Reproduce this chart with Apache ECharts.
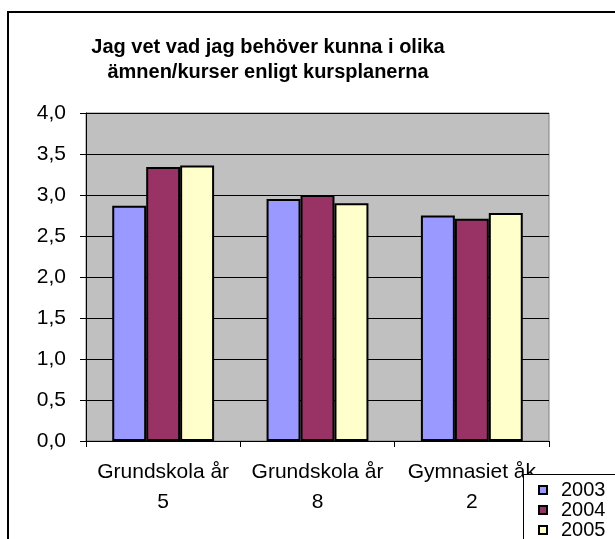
<!DOCTYPE html>
<html><head><meta charset="utf-8">
<script src="https://cdn.jsdelivr.net/npm/echarts@6/dist/echarts.min.js"></script>
<style>html,body{margin:0;padding:0;background:#fff}#c{width:615px;height:539px}</style>
</head><body><div id="c"></div>
<script>
var titleText = 'Jag vet vad jag behöver kunna i olika\nämnen/kurser enligt kursplanerna';
var categories = ['Grundskola år\n5', 'Grundskola år\n8', 'Gymnasiet åk\n2'];
var seriesNames = ['2003', '2004', '2005'];
var values2003 = [2.87, 2.95, 2.75];
var values2004 = [3.34, 3.00, 2.71];
var values2005 = [3.36, 2.90, 2.78];
var colors = ['#9999FF', '#993366', '#FFFFCC'];
var FONT = 'Liberation Sans, Arial, sans-serif';

var chart = echarts.init(document.getElementById('c'), null, {renderer: 'canvas'});
var data = [values2003, values2004, values2005];
chart.setOption({
  animation: false,
  backgroundColor: '#ffffff',
  title: {
    text: titleText, left: 263, top: 30, textAlign: 'center',
    textStyle: {fontFamily: FONT, fontSize: 20, fontWeight: 'bold', color: '#000', lineHeight: 25}
  },
  graphic: [{
    type: 'rect', z: 100, silent: true,
    shape: {x: 8, y: 12, width: 700, height: 600},
    style: {fill: 'none', stroke: '#000', lineWidth: 2}
  }, {
    type: 'rect', z: 3, silent: true,
    shape: {x: 523.5, y: 474.5, width: 200, height: 100},
    style: {fill: '#fff', stroke: '#000', lineWidth: 1}
  }],
  grid: {left: 86, right: 66, top: 113, bottom: 98, show: true, backgroundColor: '#C0C0C0', borderColor: '#808080', borderWidth: 1},
  legend: {
    orient: 'vertical', left: 523, top: 474, height: 120, width: 90, padding: [6, 0, 0, 15],
    icon: 'rect', itemWidth: 8, itemHeight: 8, itemGap: 0,
    textStyle: {fontFamily: FONT, fontSize: 20, color: '#000', lineHeight: 19, padding: [0, 0, 0, 9]},
    data: seriesNames
  },
  xAxis: {
    type: 'category', data: categories,
    axisLine: {lineStyle: {color: '#000', width: 1}},
    axisTick: {show: true, length: 6, lineStyle: {color: '#000'}},
    axisLabel: {fontFamily: FONT, fontSize: 21, color: '#000', lineHeight: 30, margin: 16, interval: 0}
  },
  yAxis: {
    type: 'value', min: 0, max: 4, interval: 0.5,
    axisLine: {show: true, lineStyle: {color: '#000', width: 1}},
    axisTick: {show: true, length: 6, lineStyle: {color: '#000'}},
    axisLabel: {fontFamily: FONT, fontSize: 21, color: '#000', margin: 20,
      formatter: function (v) { return v.toFixed(1).replace('.', ','); }},
    splitLine: {lineStyle: {color: '#000', width: 1}}
  },
  series: seriesNames.map(function (n, i) {
    return {
      name: n, type: 'bar', data: data[i],
      barGap: '0%', barCategoryGap: '34%',
      itemStyle: {color: colors[i], borderColor: '#000', borderWidth: 2}
    };
  })
});
</script></body></html>
